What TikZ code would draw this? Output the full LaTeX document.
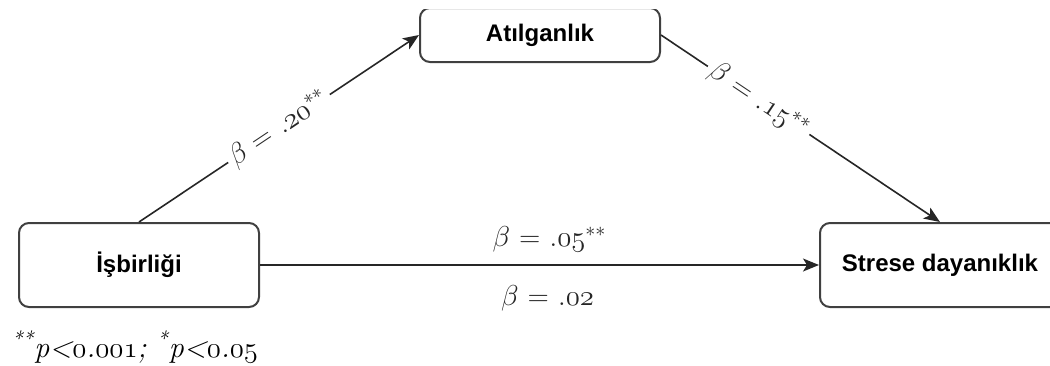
\documentclass[tikz,border=0pt]{standalone}
\usepackage{fontspec}
\newfontfamily\kutufont{Liberation Sans}
\usetikzlibrary{arrows.meta}
\newcommand{\eskisayi}[1]{$\mathnormal{#1}$}

\begin{document}
\begin{tikzpicture}[x=0.5pt,y=-0.5pt,
  kutu/.style={draw=black!75,line width=1pt,rounded corners=5pt,minimum width=120pt,minimum height=42pt,align=center,fill=white,font=\kutufont\bfseries\fontsize{12}{14}\selectfont},
  ok/.style={-{Stealth[length=8pt,width=6.5pt,inset=2pt]},line width=0.8pt,black!85},
  katsayi/.style={fill=white,inner sep=2pt,font=\fontsize{14}{16}\selectfont}]
  \useasboundingbox (0,0) rectangle (1050,365);
  \begin{scope}
  \clip (0,9) rectangle (1050,365);
  \node[kutu] (isb) at (139,265) {İşbirliği};
  \node[kutu,minimum height=27pt] (atil) at (540,35) {Atılganlık};
  \node[kutu] (stres) at (940,265) {Strese dayanıklık};
  \draw[ok] (isb.north) -- node[katsayi,sloped,pos=0.5] {$\beta$ = .\eskisayi{20}$^{**}$} (atil.west);
  \draw[ok] (atil.east) -- node[katsayi,sloped,pos=0.35] {$\beta$ = .\eskisayi{15}$^{**}$} (stres.north);
  \draw[ok] (isb.east) -- (stres.west)
    node[katsayi,pos=0.5,above=4pt,xshift=5pt] (dogru) {$\beta$ = .\eskisayi{05}$^{**}$}
    node[katsayi,pos=0.5,below=8pt,xshift=4pt] (dolayli) {$\beta$ = .\eskisayi{02}};
  \end{scope}
  \node[font=\itshape\fontsize{15}{17}\selectfont] (not) at (135,347) {\textsuperscript{**}p<\eskisayi{0}.\eskisayi{001}; \textsuperscript{*}p<\eskisayi{0}.\eskisayi{05}};
\end{tikzpicture}
\end{document}
